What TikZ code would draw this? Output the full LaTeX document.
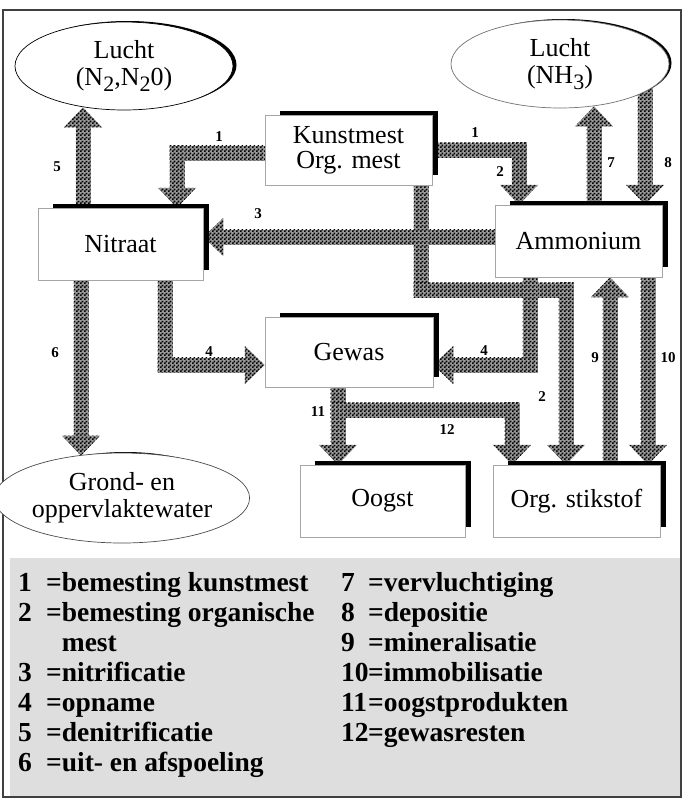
\documentclass[tikz,border=0pt]{standalone}
\usepackage{fontspec}
\setmainfont{Liberation Serif}
\usetikzlibrary{patterns,calc,backgrounds,shapes.geometric}
\pgfdeclarepatternformonly{finechk}{\pgfpointorigin}{\pgfqpoint{4pt}{4pt}}{\pgfqpoint{4pt}{4pt}}{%
  \pgfpathrectangle{\pgfpointorigin}{\pgfqpoint{2pt}{2pt}}%
  \pgfpathrectangle{\pgfqpoint{2pt}{2pt}}{\pgfqpoint{2pt}{2pt}}%
  \pgfusepath{fill}}
\newcommand\lowsub[1]{\raisebox{-6pt}{\fontsize{22}{22}\selectfont #1}}
% arrow pieces (screen coordinates, y downwards)
\newcommand\arrS[2]{\path[arrfill] ($(#1)+(-7.5,-7.5)$) rectangle ($(#2)+(7.5,7.5)$);}
\newcommand\arrD[2]{\path[arrfill] ($(#1)+(-7.5,-7.5)$) rectangle ($(#2)+(7.5,-19)$);
  \path[arrfill] (#2) -- ++(-19,-20) -- ++(38,0) -- cycle;}
\newcommand\arrU[2]{\path[arrfill] ($(#2)+(-7.5,19)$) rectangle ($(#1)+(7.5,7.5)$);
  \path[arrfill] (#2) -- ++(-19,20) -- ++(38,0) -- cycle;}
\newcommand\arrL[2]{\path[arrfill] ($(#2)+(19,-7.5)$) rectangle ($(#1)+(7.5,7.5)$);
  \path[arrfill] (#2) -- ++(20,-19) -- ++(0,38) -- cycle;}
\newcommand\arrR[2]{\path[arrfill] ($(#1)+(-7.5,-7.5)$) rectangle ($(#2)+(-19,7.5)$);
  \path[arrfill] (#2) -- ++(-20,-19) -- ++(0,38) -- cycle;}
\tikzset{
  box/.style={draw=black!35, line width=0.5pt, fill=white, minimum width=167pt,
    minimum height=72pt, inner sep=0pt, align=center, font=\fontsize{26}{25}\selectfont},
  oval/.style={ellipse, draw=black, line width=0.7pt, fill=white, minimum width=218pt,
    minimum height=88pt, inner sep=0pt, align=center, font=\fontsize{26}{27}\selectfont},
  arrfill/.style={preaction={fill=black!40}, pattern=finechk, pattern color=black},
  lbl/.style={font=\bfseries\fontsize{15}{15}\selectfont, inner sep=0pt},
  leg/.style={anchor=base west, inner sep=0pt, font=\bfseries\fontsize{27.5}{27.5}\selectfont},
}
\begin{document}
\begin{tikzpicture}[x=1pt,y=-1pt]
\useasboundingbox (0,0) rectangle (686,804);
% nodes
\node[box, minimum height=70pt] (kunst) at (348.5,150) {Kunstmest\\Org. mest};
\node[box, minimum width=165pt] (nit) at (120.5,244) {Nitraat};
\node[box] (amm) at (578.5,241) {Ammonium};
\node[box, minimum width=168pt, minimum height=70pt] (gewas) at (349,352) {Gewas};
\node[box, minimum width=165pt] (oogst) at (382.5,501) {Oogst};
\node[box] (org) at (576.5,501) {Org. stikstof};
\node[oval] (l1) at (124,66) {Lucht\\(N\lowsub{2},N\lowsub{2}0)};
\node[oval, draw=black!55] (l2) at (560,64) {Lucht\\(NH\lowsub{3})};
\node[oval, draw=black!70, minimum height=90pt] (grond) at (122,498) {Grond- en\\oppervlaktewater};
% arrow labels
\node[lbl] (t1a) at (219,137) {1};
\node[lbl] (t1b) at (475,133) {1};
\node[lbl] (t2a) at (500,172) {2};
\node[lbl] (t3) at (258,214) {3};
\node[lbl] (t5) at (57,167) {5};
\node[lbl] (t7) at (611,163) {7};
\node[lbl] (t8) at (668,163) {8};
\node[lbl] (t6) at (55,353) {6};
\node[lbl] (t4a) at (209,352) {4};
\node[lbl] (t4b) at (484,351) {4};
\node[lbl] (t9) at (595,358) {9};
\node[lbl] (t10) at (668,358) {10};
\node[lbl] (t2b) at (542,397) {2};
\node[lbl] (t11) at (318,412) {11};
\node[lbl] (t12) at (447,430) {12};
% legend
\node[leg] (g1) at (18,591) {\makebox[28pt][l]{1}=bemesting kunstmest};
\node[leg] (g2) at (18,621) {\makebox[28pt][l]{2}=bemesting organische};
\node[leg] (g2b) at (18,651) {\makebox[28pt][l]{}\phantom{=}mest};
\node[leg] (g3) at (18,681) {\makebox[28pt][l]{3}=nitrificatie};
\node[leg] (g4) at (18,711) {\makebox[28pt][l]{4}=opname};
\node[leg] (g5) at (18,741) {\makebox[28pt][l]{5}=denitrificatie};
\node[leg] (g6) at (18,771) {\makebox[28pt][l]{6}=uit- en afspoeling};
\node[leg] (g7) at (341,591) {\makebox[27pt][l]{7}=vervluchtiging};
\node[leg] (g8) at (341,621) {\makebox[27pt][l]{8}=depositie};
\node[leg] (g9) at (341,651) {\makebox[27pt][l]{9}=mineralisatie};
\node[leg] (g10) at (341,681) {\makebox[27pt][l]{10}=immobilisatie};
\node[leg] (g11) at (341,711) {\makebox[27pt][l]{11}=oogstprodukten};
\node[leg] (g12) at (341,741) {\makebox[27pt][l]{12}=gewasresten};
\begin{scope}[on background layer]
  \fill[black!13] (10,558) rectangle (681,797);
  \draw[line width=1.5pt, black!75] (3,10) rectangle (681,797);
  % connector coordinates
  \coordinate (a1a) at (kunst.west |- 0,153);
  \coordinate (a1b) at (177,153);
  \coordinate (a1t) at (nit.north -| 177,0);
  \coordinate (a1c) at (kunst.east |- 0,150);
  \coordinate (a1d) at (519,150);
  \coordinate (a1e) at (amm.north -| 519,0);
  \coordinate (a3s) at (amm.west |- 0,237);
  \coordinate (a3t) at (nit.east |- 0,237);
  \coordinate (a2s) at (kunst.south -| 421,0);
  \coordinate (a2b) at (421,290);
  \coordinate (a2c) at (566,290);
  \coordinate (a2t) at (org.north -| 566,0);
  \coordinate (a4s) at (amm.south -| 530,0);
  \coordinate (a4b) at (530,365);
  \coordinate (a4t) at (gewas.east |- 0,365);
  \coordinate (a4c) at (nit.south -| 165,0);
  \coordinate (a4d) at (165,365);
  \coordinate (a4u) at (gewas.west |- 0,365);
  \coordinate (a5s) at (nit.north -| 83,0);
  \coordinate (a5t) at ($(l1.south -| 83,0)+(0,-3)$);
  \coordinate (a6s) at (nit.south -| 81,0);
  \coordinate (a6t) at ($(grond.north -| 81,0)+(0,3)$);
  \coordinate (a7s) at (amm.north -| 594,0);
  \coordinate (a7t) at ($(l2.south -| 594,0)+(0,-2)$);
  \coordinate (a8s) at ($(l2.south -| 645,0)+(0,-15)$);
  \coordinate (a8t) at (amm.north -| 645,0);
  \coordinate (a9s) at (org.north -| 610,0);
  \coordinate (a9t) at (amm.south -| 610,0);
  \coordinate (a10s) at (amm.south -| 648,0);
  \coordinate (a10t) at (org.north -| 648,0);
  \coordinate (a11s) at (gewas.south -| 338,0);
  \coordinate (a11t) at (oogst.north -| 338,0);
  \coordinate (a12b) at (338,410);
  \coordinate (a12c) at (512,410);
  \coordinate (a12t) at (org.north -| 512,0);
  % connectors
  \arrS{a1b}{a1a} \arrD{a1b}{a1t}
  \arrS{a1c}{a1d} \arrD{a1d}{a1e}
  \arrL{a3s}{a3t}
  \arrS{a2s}{a2b} \arrS{a2b}{a2c} \arrD{a2c}{a2t}
  \arrS{a4s}{a4b} \arrL{a4b}{a4t}
  \arrS{a4c}{a4d} \arrR{a4d}{a4u}
  \arrU{a5s}{a5t}
  \arrD{a6s}{a6t}
  \arrU{a7s}{a7t}
  \arrD{a8s}{a8t}
  \arrU{a9s}{a9t}
  \arrD{a10s}{a10t}
  \arrD{a11s}{a11t}
  \arrS{a11s}{a12b} \arrS{a12b}{a12c} \arrD{a12c}{a12t}
  % shadows
  \foreach \n in {kunst,nit,amm,gewas,oogst,org}
    \fill ($(\n.north west)+(15,-4)$) rectangle ($(\n.south east)+(6,-10)$);
  \fill ($(l1.center)+(3.5,-1)$) ellipse [x radius=109, y radius=44];
  \fill ($(l2.center)+(3.5,-1)$) ellipse [x radius=108, y radius=44];
  \fill ($(grond.center)+(3.5,-1)$) ellipse [x radius=108, y radius=45];
\end{scope}
\end{tikzpicture}
\end{document}
